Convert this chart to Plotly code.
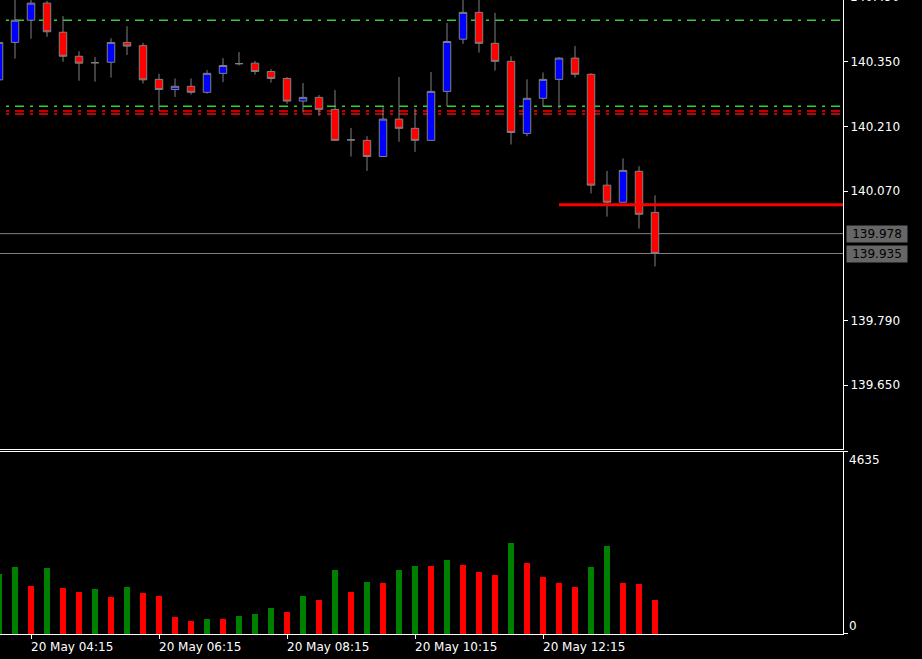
import plotly.graph_objects as go

# ---- data (15-minute bars, 20 May 03:45 .. 14:00) ----
idx = list(range(42))
opens = [140.311, 140.392, 140.440, 140.477, 140.414, 140.362, 140.348, 140.349, 140.392, 140.385,
         140.312, 140.290, 140.297, 140.284, 140.325, 140.346, 140.347, 140.329, 140.314, 140.265,
         140.273, 140.247, 140.181, 140.180, 140.145, 140.226, 140.206, 140.180, 140.286, 140.399,
         140.457, 140.390, 140.351, 140.195, 140.271, 140.312, 140.358, 140.323, 140.083, 140.046,
         140.113, 140.024]
highs = [140.397, 140.489, 140.487, 140.482, 140.449, 140.373, 140.360, 140.401, 140.427, 140.391,
         140.324, 140.314, 140.314, 140.332, 140.358, 140.371, 140.352, 140.334, 140.317, 140.304,
         140.278, 140.289, 140.207, 140.189, 140.254, 140.317, 140.249, 140.328, 140.434, 140.488,
         140.490, 140.456, 140.362, 140.312, 140.327, 140.360, 140.384, 140.325, 140.114, 140.141,
         140.124, 140.061]
lows = [140.306, 140.357, 140.400, 140.404, 140.350, 140.309, 140.307, 140.316, 140.365, 140.303,
        140.244, 140.274, 140.279, 140.281, 140.306, 140.342, 140.322, 140.305, 140.259, 140.240,
        140.233, 140.180, 140.145, 140.114, 140.145, 140.177, 140.155, 140.180, 140.254, 140.389,
        140.370, 140.331, 140.171, 140.189, 140.252, 140.249, 140.316, 140.065, 140.015, 140.046,
        139.989, 139.907]
closes = [140.392, 140.440, 140.477, 140.415, 140.362, 140.347, 140.348, 140.392, 140.384, 140.311,
          140.290, 140.297, 140.284, 140.325, 140.342, 140.346, 140.329, 140.314, 140.265, 140.273,
          140.247, 140.180, 140.181, 140.145, 140.226, 140.206, 140.180, 140.286, 140.394, 140.457,
          140.390, 140.351, 140.197, 140.271, 140.312, 140.358, 140.323, 140.083, 140.046, 140.115,
          140.020, 139.935]
volumes = [1528, 1706, 1222, 1681, 1171, 1069, 1146, 942, 1197, 1044,
           968, 433, 331, 382, 378, 458, 509, 662, 560, 968,
           866, 1630, 1069, 1324, 1299, 1630, 1732, 1728, 1884, 1757,
           1579, 1502, 2317, 1808, 1451, 1299, 1197, 1706, 2241, 1299,
           1273, 866]

time_tick_idx = [2, 10, 18, 26, 34]
time_tick_text = ["20 May 04:15", "20 May 06:15", "20 May 08:15", "20 May 10:15", "20 May 12:15"]
price_ticks = [140.350, 140.210, 140.070, 139.790, 139.650]
top_cut_label = "140.490"
green_levels = [140.440, 140.254]
red_levels = [140.2435, 140.237]
ask_bid = [139.978, 139.935]
red_line_level = 140.0405
red_line_start = 35
vol_max = 4635

FONT = "DejaVu Sans"
vol_colors = ["#008000"] + ["#008000" if volumes[i] > volumes[i - 1] else "#FF0000" for i in range(1, len(volumes))]

fig = go.Figure()
fig.add_trace(go.Candlestick(
    x=idx, open=opens, high=highs, low=lows, close=closes,
    increasing=dict(fillcolor="#0000FF", line=dict(color="#808080", width=1)),
    decreasing=dict(fillcolor="#FF0000", line=dict(color="#808080", width=1)),
    xaxis="x", yaxis="y", showlegend=False, hoverinfo="skip"))
fig.add_trace(go.Bar(
    x=idx, y=volumes, width=0.375, marker=dict(color=vol_colors, line=dict(width=0)),
    xaxis="x2", yaxis="y2", showlegend=False, hoverinfo="skip"))

shapes = []
dashpat = "0px,6px,3px,6px,9px,0px"
for lv in green_levels:
    shapes.append(dict(type="line", xref="x domain", yref="y", x0=0, x1=1, y0=lv, y1=lv,
                       line=dict(color="#32CD32", width=1.5, dash=dashpat), layer="below"))
for lv in red_levels:
    shapes.append(dict(type="line", xref="x domain", yref="y", x0=0, x1=1, y0=lv, y1=lv,
                       line=dict(color="#FF0000", width=1.5, dash=dashpat), layer="below"))
for lv in ask_bid:
    shapes.append(dict(type="line", xref="x domain", yref="y", x0=0, x1=1, y0=lv, y1=lv,
                       line=dict(color="#808080", width=1), layer="below"))
shapes.append(dict(type="line", xref="x", yref="y", x0=red_line_start, x1=52.75,
                   y0=red_line_level, y1=red_line_level,
                   line=dict(color="#FF0000", width=3)))

ann = []
for v in ask_bid:
    ann.append(dict(xref="paper", yref="y", x=1, y=v, xanchor="left", yanchor="middle",
                    xshift=3, text=f"{v:.3f}", showarrow=False, width=60, height=16,
                    font=dict(family=FONT, size=12, color="#000000"),
                    bgcolor="#666666", borderpad=0))
ann.append(dict(xref="paper", yref="paper", x=1, y=1, xanchor="left", yanchor="middle",
                xshift=5, yshift=3, text=top_cut_label, showarrow=False,
                font=dict(family=FONT, size=12, color="#FFFFFF")))
for t, lab in zip(time_tick_idx, time_tick_text):
    ann.append(dict(xref="x2", yref="paper", x=t, y=0, xanchor="left", yanchor="top",
                    xshift=-2, yshift=-4, text=lab, showarrow=False,
                    font=dict(family=FONT, size=12, color="#FFFFFF")))
ann.append(dict(xref="paper", yref="y2", x=1, y=vol_max, xanchor="left", yanchor="top",
                xshift=4, yshift=1, text=str(vol_max), showarrow=False,
                font=dict(family=FONT, size=12, color="#FFFFFF")))
ann.append(dict(xref="paper", yref="y2", x=1, y=0, xanchor="left", yanchor="bottom",
                xshift=4, yshift=-1, text="0", showarrow=False,
                font=dict(family=FONT, size=12, color="#FFFFFF")))

xr = [0.0625, 52.75]
fig.update_layout(
    width=922, height=659,
    margin=dict(l=0, r=79, t=0, b=25, autoexpand=False),
    paper_bgcolor="#000000", plot_bgcolor="#000000",
    font=dict(family=FONT, size=12, color="#FFFFFF"),
    boxgap=0.33,
    xaxis=dict(domain=[0, 1], anchor="y", range=xr, showgrid=False, zeroline=False,
               showline=True, linecolor="#FFFFFF", linewidth=1, showticklabels=False,
               ticks="", rangeslider=dict(visible=False), fixedrange=True),
    yaxis=dict(domain=[0.2918, 1], anchor="x", side="right", range=[139.5119, 140.4838],
               showgrid=False, zeroline=False, showline=True, linecolor="#FFFFFF", linewidth=1,
               tickvals=price_ticks, ticktext=[f"{v:.3f}" for v in price_ticks],
               ticks="outside", ticklen=4, tickcolor="#FFFFFF",
               tickfont=dict(family=FONT, size=12, color="#FFFFFF")),
    xaxis2=dict(domain=[0, 1], anchor="y2", range=xr, showgrid=False, zeroline=False,
                showline=True, mirror=True, linecolor="#FFFFFF", linewidth=1,
                tickvals=time_tick_idx, showticklabels=False,
                ticks="outside", ticklen=4, tickcolor="#FFFFFF"),
    yaxis2=dict(domain=[0, 0.2875], anchor="x2", side="right", range=[0, vol_max],
                showgrid=False, zeroline=False, showline=True, linecolor="#FFFFFF", linewidth=1,
                tickvals=[0, vol_max], showticklabels=False,
                ticks="outside", ticklen=4, tickcolor="#FFFFFF"),
    shapes=shapes, annotations=ann, bargap=0,
)

fig.write_html("out.html", config={"displayModeBar": False},
               post_script="document.body.style.margin='0';document.body.style.background='#000';document.body.style.overflow='hidden';")
